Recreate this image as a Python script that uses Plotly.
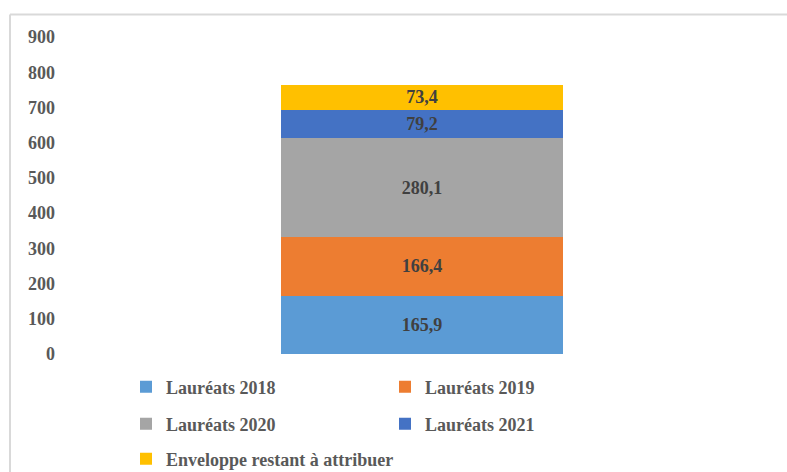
import plotly.graph_objects as go

# Stacked envelope breakdown (single column)
category = ["Total"]
series_names = ["Lauréats 2018", "Lauréats 2019", "Lauréats 2020",
                "Lauréats 2021", "Enveloppe restant à attribuer"]
series_values = [165.9, 166.4, 280.1, 79.2, 73.4]
series_colors = ["#5B9BD5", "#ED7D31", "#A5A5A5", "#4472C4", "#FFC000"]
legend_slots = ["legend", "legend", "legend2", "legend2", "legend3"]
y_ticks = [0, 100, 200, 300, 400, 500, 600, 700, 800, 900]

FONT = "Liberation Serif, Times New Roman, serif"

fig = go.Figure()
for name, val, col, lg in zip(series_names, series_values, series_colors, legend_slots):
    fig.add_trace(go.Bar(
        x=category, y=[val], name=name,
        marker=dict(color=col, line=dict(width=0)),
        texttemplate="%{y:.1f}", textposition="inside",
        insidetextanchor="middle", constraintext="none",
        textfont=dict(family=FONT, size=18, color="#404040", weight="bold"),
        legend=lg,
    ))

W, H = 787, 472
ml, mr, mt, mb = 60, 3, 37, 118
pw, ph = W - ml - mr, H - mt - mb


def px_x(p):
    return (p - ml) / pw


def px_y(p):
    return (H - mb - p) / ph


legend_common = dict(
    orientation="h", xanchor="left", yanchor="middle",
    font=dict(family=FONT, size=18, color="#595959", weight="bold"),
    bgcolor="rgba(0,0,0,0)", borderwidth=0, traceorder="normal",
)

fig.update_layout(
    width=W, height=H,
    margin=dict(l=ml, r=mr, t=mt, b=mb, autoexpand=False),
    barmode="stack", bargap=0.61,
    paper_bgcolor="white", plot_bgcolor="white",
    separators=", ",
    font=dict(family=FONT, size=18, color="#595959"),
    xaxis=dict(showticklabels=False, showline=False, showgrid=False,
               zeroline=False, ticks=""),
    yaxis=dict(range=[0, 900], tickvals=y_ticks, showgrid=False,
               showline=False, zeroline=False, ticks="",
               ticklabelstandoff=4,
               tickfont=dict(family=FONT, size=18, color="#595959", weight="bold")),
    legend=dict(x=px_x(126), y=px_y(387), entrywidth=214,
                entrywidthmode="pixels", **legend_common),
    legend2=dict(x=px_x(126), y=px_y(424), entrywidth=214,
                 entrywidthmode="pixels", **legend_common),
    legend3=dict(x=px_x(126), y=px_y(459), entrywidth=0, **legend_common),
    shapes=[
        dict(type="line", xref="paper", yref="paper",
             x0=px_x(10), x1=px_x(W + 5), y0=px_y(14.5), y1=px_y(14.5),
             line=dict(color="#D9D9D9", width=2)),
        dict(type="line", xref="paper", yref="paper",
             x0=px_x(10), x1=px_x(10), y0=px_y(14.5), y1=px_y(H + 5),
             line=dict(color="#D9D9D9", width=2)),
    ],
)

fig.write_html("out.html")
